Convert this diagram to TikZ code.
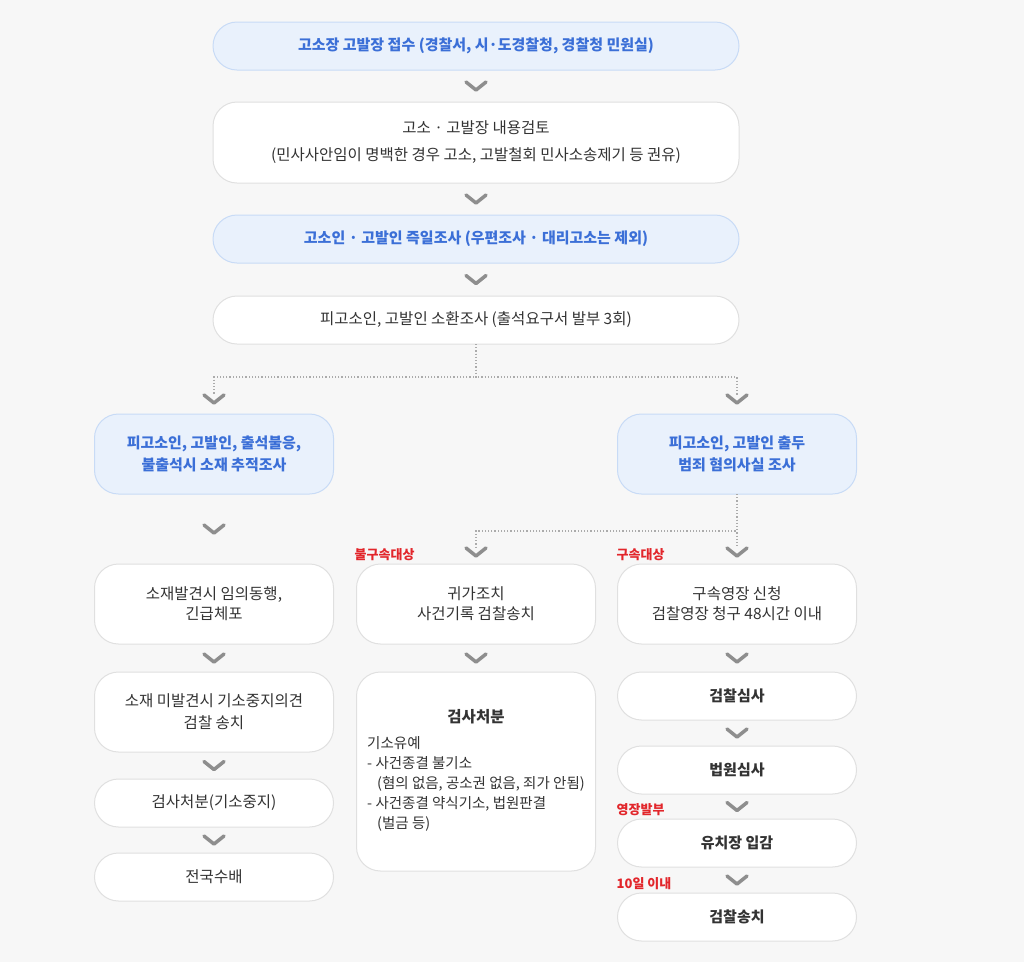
\documentclass[tikz,border=0pt]{standalone}
\usepackage{fontspec}
\setmainfont{Noto Sans CJK KR}
\usetikzlibrary{positioning, decorations.markings}
\definecolor{pagebg}{HTML}{F7F7F7}
\definecolor{bluefill}{HTML}{E9F1FC}
\definecolor{blueline}{HTML}{C8DBF6}
\definecolor{bluetext}{HTML}{3B6FD7}
\definecolor{greyline}{HTML}{E0E0E0}
\definecolor{inktext}{HTML}{333333}
\definecolor{chevgrey}{HTML}{8E8E8E}
\definecolor{dotgrey}{HTML}{ABABAB}
\definecolor{tagred}{HTML}{E2262B}

\tikzset{
  box/.style={draw=greyline, line width=1pt, fill=white, rounded corners=24pt,
    minimum width=239pt, minimum height=80pt, inner sep=0pt, outer sep=0pt,
    align=center, text=inktext, font=\fontsize{15.5}{21}\selectfont},
  wide/.style={box, minimum width=526pt, minimum height=48pt},
  pill/.style={box, minimum height=48pt},
  bluebox/.style={fill=bluefill, draw=blueline, text=bluetext,
    font=\fontsize{15}{22}\selectfont\bfseries},
  boldtext/.style={font=\fontsize{15}{21}\selectfont\bfseries},
  redtag/.style={text=tagred, font=\fontsize{13}{15}\selectfont\bfseries,
    inner sep=0pt, anchor=base west},
  chev/.style={draw=chevgrey, line width=3.5pt, line cap=round, line join=round, solid},
  flow/.style={postaction={decorate}, decoration={markings,
    mark=at position 0.5 with {\draw[chev] (-4pt,-10pt) -- (4pt,0pt) -- (-4pt,10pt);}}},
  branch/.style={draw=dotgrey, line width=1.2pt, dash pattern=on 1.2pt off 2pt,
    postaction={decorate}, decoration={markings,
    mark=at position 0.9999 with {\draw[chev] (0pt,-10pt) -- (8pt,0pt) -- (0pt,10pt);}}},
}

\begin{document}
\begin{tikzpicture}
\fill[pagebg] (0,0) rectangle (1024pt,-962pt);
\useasboundingbox (0,0) rectangle (1024pt,-962pt);

\node[wide, bluebox] (t1) at (476pt,-46pt) {고소장 고발장 접수 (경찰서, 시·도경찰청, 경찰청 민원실)};
\node[wide, minimum height=81pt, below=32pt of t1, font=\fontsize{15.5}{27}\selectfont] (t2)
  {고소 · 고발장 내용검토\\(민사사안임이 명백한 경우 고소, 고발철회 민사소송제기 등 권유)};
\node[wide, bluebox, below=32pt of t2] (t3) {고소인 · 고발인 즉일조사 (우편조사 · 대리고소는 제외)};
\node[wide, below=33pt of t3] (t4) {피고소인, 고발인 소환조사 (출석요구서 발부 3회)};

\node[box, bluebox, below=70pt of t4, xshift=-262pt] (lb) {피고소인, 고발인, 출석불응,\\불출석시 소재 추적조사};
\node[box, bluebox, below=70pt of t4, xshift=261pt] (rb) {피고소인, 고발인 출두\\범죄 혐의사실 조사};

\node[box, below=70pt of lb, font=\fontsize{15.5}{20}\selectfont] (l1) {소재발견시 임의동행,\\긴급체포};
\node[box, below=28pt of l1, font=\fontsize{15.5}{22}\selectfont] (l2) {소재 미발견시 기소중지의견\\검찰 송치};
\node[pill, below=27pt of l2] (l3) {검사처분(기소중지)};
\node[pill, below=26pt of l3] (l4) {전국수배};

\node[box, below=70pt of rb, xshift=-261pt, font=\fontsize{15.5}{20}\selectfont] (m1) {귀가조치\\사건기록 검찰송치};
\node[box, minimum height=199pt, below=28pt of m1, font=\fontsize{14.5}{20}\selectfont] (m2) {%
  \begin{tabular}{@{}l@{}}
  \multicolumn{1}{@{}c@{}}{\fontsize{15.5}{20}\selectfont\bfseries 검사처분}\\[6pt]
  기소유예\\
  - 사건종결 불기소\\
  \hspace{10pt}(혐의 없음, 공소권 없음, 죄가 안됨)\\
  - 사건종결 약식기소, 법원판결\\
  \hspace{10pt}(벌금 등)
  \end{tabular}};

\node[box, below=70pt of rb, font=\fontsize{15.5}{20}\selectfont] (r1) {구속영장 신청\\검찰영장 청구 48시간 이내};
\node[pill, boldtext, below=28pt of r1] (r2) {검찰심사};
\node[pill, boldtext, below=26pt of r2] (r3) {법원심사};
\node[pill, boldtext, below=25pt of r3] (r4) {유치장 입감};
\node[pill, boldtext, below=26pt of r4] (r5) {검찰송치};

\node[redtag] (tag1) at ([xshift=-2pt, yshift=5pt]m1.north west) {불구속대상};
\node[redtag] (tag2) at ([xshift=-1pt, yshift=5pt]r1.north west) {구속대상};
\node[redtag] (tag3) at ([xshift=-1pt, yshift=5pt]r4.north west) {영장발부};
\node[redtag] (tag4) at ([xshift=-1pt, yshift=5pt]r5.north west) {10일 이내};

\path[flow] (t1) -- (t2);
\path[flow] (t2) -- (t3);
\path[flow] (t3) -- (t4);
\draw[branch] (t4.south) -- ++(0,-33pt) -| ([yshift=19pt]lb.north);
\draw[branch] (t4.south) -- ++(0,-33pt) -| ([yshift=19pt]rb.north);

\path[flow] (lb) -- (l1);
\path[flow] (l1) -- (l2);
\path[flow] (l2) -- (l3);
\path[flow] (l3) -- (l4);

\draw[branch] (rb.south) -- ++(0,-37pt) -| ([yshift=16pt]m1.north);
\draw[branch] (rb.south) -- ([yshift=16pt]r1.north);
\path[flow] (m1) -- (m2);

\path[flow] (r1) -- (r2);
\path[flow] (r2) -- (r3);
\path[flow] (r3) -- (r4);
\path[flow] (r4) -- (r5);
\end{tikzpicture}
\end{document}
